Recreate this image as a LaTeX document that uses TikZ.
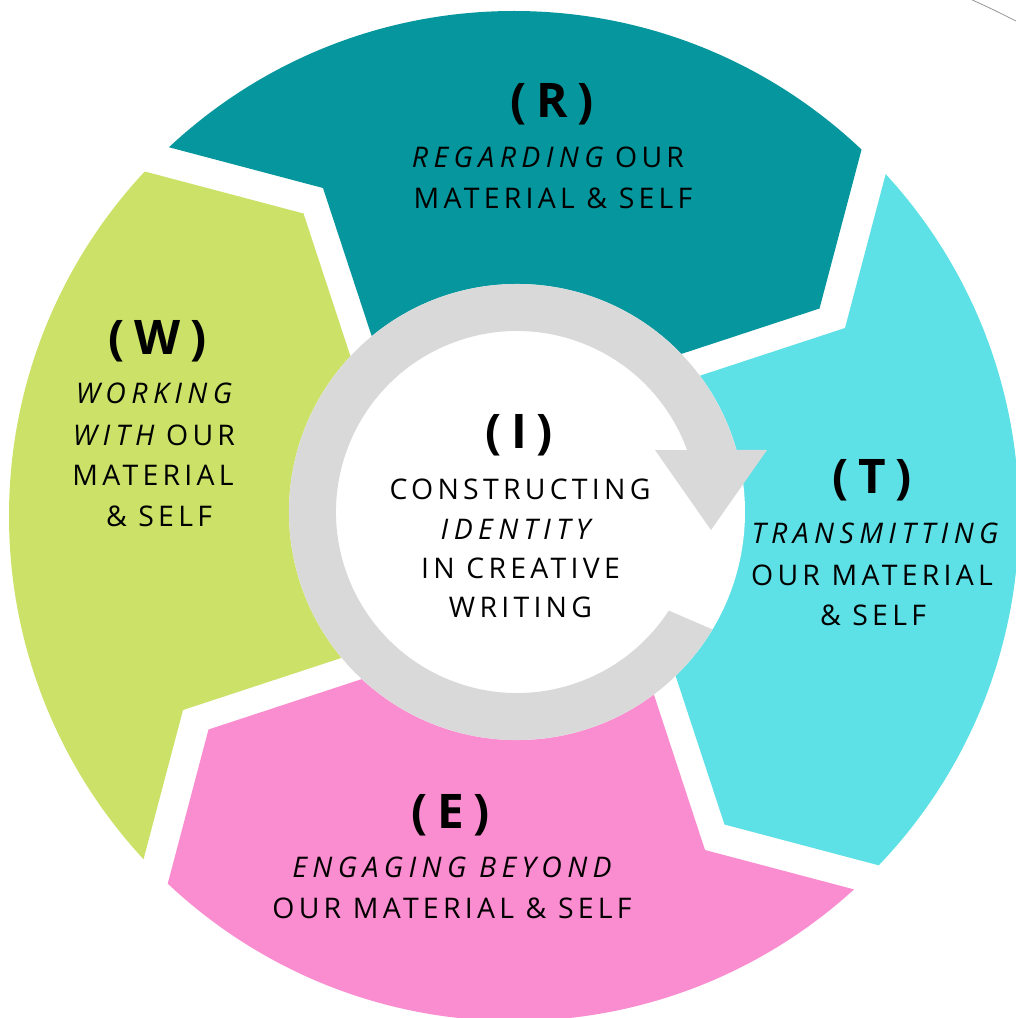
\documentclass[tikz,border=0pt]{standalone}
\usepackage{fontspec}
\newfontfamily\bodyfont[LetterSpace=15, ItalicFeatures={LetterSpace=19}]{Open Sans}
\newfontfamily\headfont[LetterSpace=20]{Open Sans}
\definecolor{tealR}{HTML}{05979D}
\definecolor{cyanT}{HTML}{5EE1E6}
\definecolor{pinkE}{HTML}{FA8CD0}
\definecolor{greenW}{HTML}{CBE168}
\definecolor{ringgray}{HTML}{D9D9D9}
\begin{document}
\begin{tikzpicture}[x=0.025cm, y=-0.025cm,
  txt/.style={anchor=base, inner sep=0pt, text=black},
  body/.style={txt, font=\bodyfont\fontsize{20.2}{22}\selectfont},
  head/.style={txt, font=\headfont\bfseries\fontsize{33.9}{36}\selectfont},
  ring/.style={fill=ringgray, draw=none}
]
\useasboundingbox (0,0) rectangle (1015,1018);
\fill[white] (0,0) rectangle (1015,1018);

% four chevron segments of the outer wheel, each turned a quarter further
\begin{scope}
  \clip (514,516) circle[radius=505];
  \foreach \k/\col in {0/tealR,1/cyanT,2/pinkE,3/greenW}{
    \begin{scope}[shift={(514,519)}, rotate=-90*\k]
      \fill[\col] (-423.5,-392.5) -- (-191,-331) -- (-122.3,-122.1)
        -- (96.6,-141.8) -- (305.5,-210.5) -- (367,-443) -- (0,-800) -- cycle;
    \end{scope}
  }
\end{scope}

% central disc with the circular arrow
\begin{scope}[shift={(517,512)}, yscale=-1]
  \fill[white] (0,0) circle[radius=228];
  \fill[ring] (-31:228) arc[start angle=-31, end angle=-344.2, radius=228]
    -- (250,62) -- (194,-18) -- (138,62)
    -- (-340:181) arc[start angle=-340, end angle=-33, radius=181] -- cycle;
\end{scope}

% thin stroke in the corner
\draw[gray!80, line width=0.6pt] (968,-2) .. controls (992,9) .. (1018,22);

% R
\node[head] (rh) at (552,118) {(R)};
\node[body] (r1) at (548,168) {\itshape REGARDING\upshape{} OUR};
\node[body] (r2) at (553,208) {MATERIAL \& SELF};

% W
\node[head] (wh) at (157.5,354) {(W)};
\node[body] (w1) at (154,403) {\itshape WORKING};
\node[body] (w2) at (154,445) {\itshape WITH\upshape{} OUR};
\node[body] (w3) at (153,485) {MATERIAL};
\node[body] (w4) at (159,526) {\& SELF};

% T
\node[head] (th) at (872,493) {(T)};
\node[body] (t1) at (875,543) {\itshape TRANSMITTING};
\node[body] (t2) at (872,585) {OUR MATERIAL};
\node[body] (t3) at (873,625) {\& SELF};

% E
\node[head] (eh) at (450.5,828) {(E)};
\node[body] (e1) at (452,877) {\itshape ENGAGING BEYOND};
\node[body] (e2) at (452,918) {OUR MATERIAL \& SELF};

% I
\node[head] (ih) at (519,448) {(I)};
\node[body] (i1) at (520,499) {CONSTRUCTING};
\node[body] (i2) at (515.5,539) {\itshape IDENTITY};
\node[body] (i3) at (520.5,578) {IN CREATIVE};
\node[body] (i4) at (520.5,617) {WRITING};
\end{tikzpicture}
\end{document}
